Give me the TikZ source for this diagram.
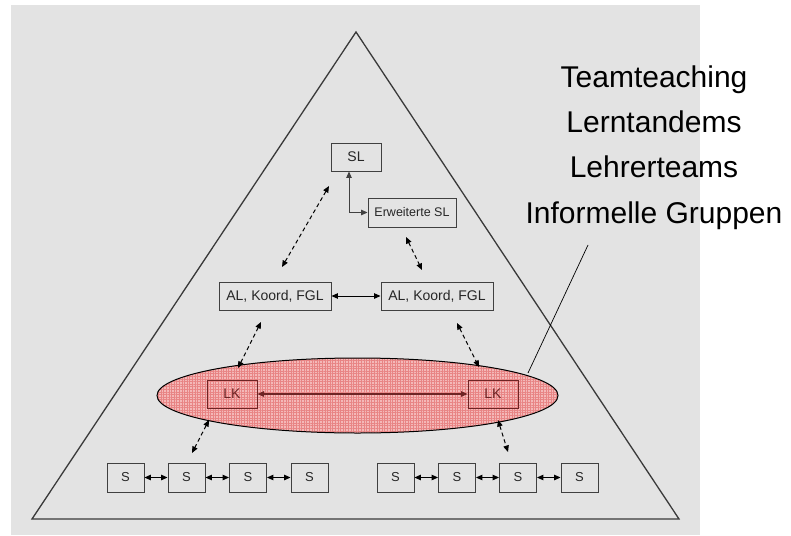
\documentclass[tikz,border=0pt]{standalone}
\usepackage{fontspec}
\setmainfont{Liberation Sans}
\usetikzlibrary{arrows.meta,patterns.meta}
\definecolor{panel}{RGB}{227,227,227}
\definecolor{edge}{RGB}{58,58,58}
\definecolor{boxline}{RGB}{64,64,64}
\definecolor{groupfill}{RGB}{244,184,184}
\definecolor{groupgrid}{RGB}{232,132,132}
\definecolor{groupink}{RGB}{110,36,36}
\begin{document}
\begin{tikzpicture}[x=1pt,y=-1pt,
  box/.style={draw=boxline,line width=0.9pt,inner sep=0pt,
    minimum width=#1,minimum height=28pt,text=black!85},
  box/.default=50pt,
  sbox/.style={draw=boxline,line width=0.9pt,inner sep=0pt,
    minimum width=37pt,minimum height=29pt,text=black!85,
    font=\fontsize{13}{15}\selectfont},
  lkbox/.style={draw=groupink,line width=1pt,inner sep=0pt,
    minimum width=50pt,minimum height=28pt,text=groupink,
    font=\fontsize{14}{16}\selectfont},
  both/.style={{Triangle[length=6.5pt,width=5.5pt]}-{Triangle[length=6.5pt,width=5.5pt]},
    line width=1pt},
  dashlink/.style={both,dash pattern=on 4pt off 3pt},
  label/.style={anchor=base,font=\fontsize{30}{34}\selectfont}]

% canvas and grey panel
\fill[white] (0,0) rectangle (791,535);
\fill[panel] (11,5) rectangle (700,535);

% pyramid outline
\draw[edge,line width=1.3pt,line join=miter] (32,519) -- (356,32) -- (679,519) -- cycle;

% highlighted group of subject teachers
\fill[groupfill] (357.5,395.5) ellipse [x radius=200.5pt,y radius=37.5pt];
\fill[pattern={Lines[angle=0,distance=2.6pt,line width=0.9pt]},pattern color=groupgrid]
  (357.5,395.5) ellipse [x radius=200.5pt,y radius=37.5pt];
\fill[pattern={Lines[angle=90,distance=2.6pt,line width=0.9pt]},pattern color=groupgrid]
  (357.5,395.5) ellipse [x radius=200.5pt,y radius=37.5pt];

% leadership level
\node[box, font=\fontsize{14}{16}\selectfont] (sl) at (356,157) {SL};
\node[box=88pt, minimum height=29pt, font=\fontsize{12.5}{14}\selectfont] (esl) at (412,212.5) {Erweiterte SL};
\node[box=112pt, font=\fontsize{14}{16}\selectfont] (al1) at (275,296) {AL, Koord, FGL};
\node[box=112pt, font=\fontsize{14}{16}\selectfont] (al2) at (437,296) {AL, Koord, FGL};

% teacher conferences
\node[lkbox] (lk1) at (232,394) {LK};
\node[lkbox] (lk2) at (493,394) {LK};

% pupils
\foreach \i/\x in {1/125.5,2/186.5,3/248,4/309.5}
  \node[sbox] (sa\i) at (\x,477.5) {S};
\foreach \i/\x in {1/395.5,2/457,3/518,4/579.5}
  \node[sbox] (sb\i) at (\x,477.5) {S};

% solid links
\draw[both,boxline] ([xshift=-7pt]sl.south) |- (esl.west);
\draw[both,black] (al1.east) -- (al2.west);
\draw[both,groupink,line width=1.2pt] (lk1.east) -- (lk2.west);
\foreach \a/\b in {sa1/sa2,sa2/sa3,sa3/sa4,sb1/sb2,sb2/sb3,sb3/sb4}
  \draw[both,black] (\a.east) -- (\b.west);

% dashed links between levels
\coordinate (d1a) at (329,186); \coordinate (d1b) at (282,267);
\coordinate (d2a) at (406,237); \coordinate (d2b) at (422,270);
\coordinate (d3a) at (261,322); \coordinate (d3b) at (238,368);
\coordinate (d4a) at (457,323); \coordinate (d4b) at (479,367);
\coordinate (d5a) at (209,420); \coordinate (d5b) at (192,453);
\coordinate (d6a) at (498,420); \coordinate (d6b) at (508,452);
\foreach \p in {1,...,6}
  \draw[dashlink,black] (d\p a) -- (d\p b);

% ellipse outline
\draw[black,line width=1pt] (357.5,395.5) ellipse [x radius=200.5pt,y radius=37.5pt];

% forms of cooperation
\node[label] (t1) at (654,87) {Teamteaching};
\node[label] (t2) at (654,132) {Lerntandems};
\node[label] (t3) at (654,177) {Lehrerteams};
\node[label] (t4) at (654,223) {Informelle Gruppen};
\coordinate (p1) at (588,245);
\coordinate (p2) at (528,373);
\draw[black,line width=0.7pt] (p1) -- (p2);
\end{tikzpicture}
\end{document}
